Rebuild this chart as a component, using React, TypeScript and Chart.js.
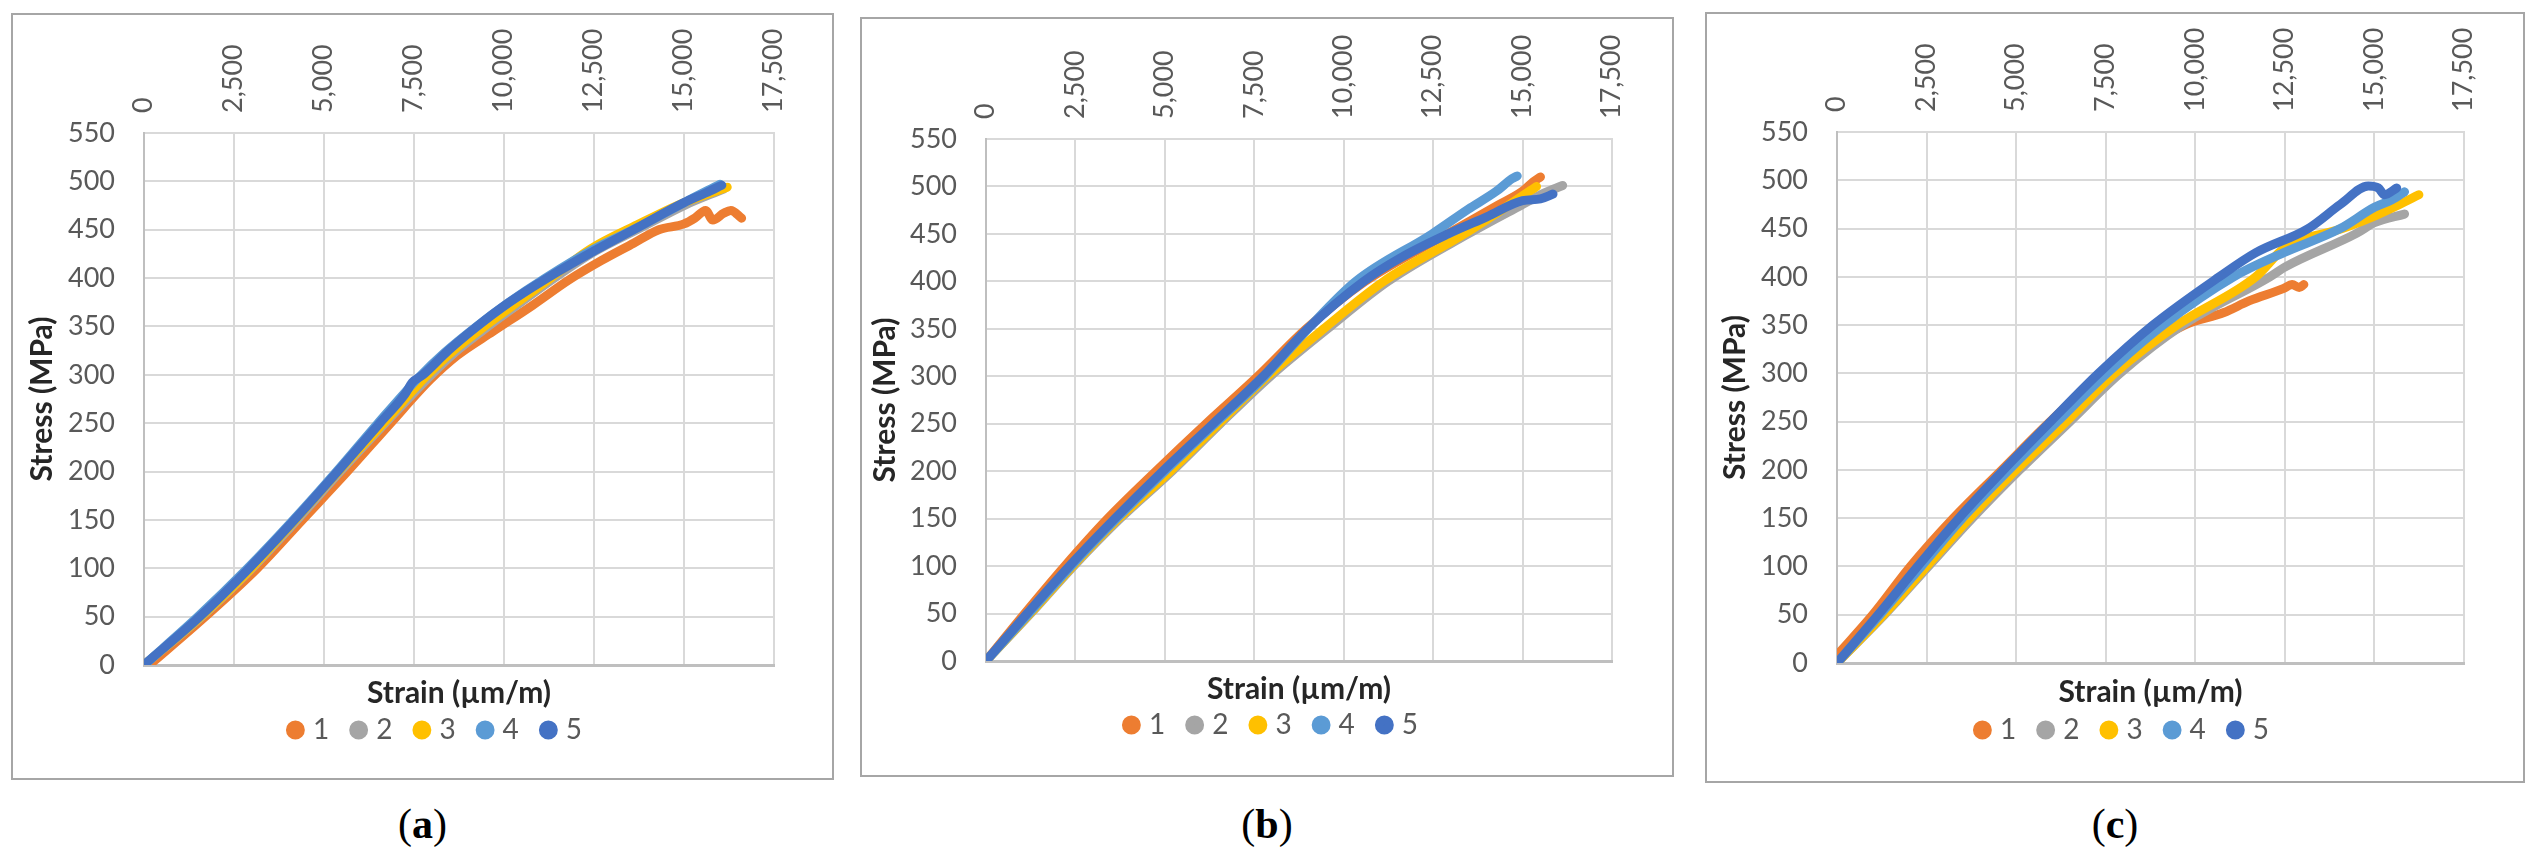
import { useEffect, useRef } from 'react';
import { Chart, registerables } from 'chart.js';

Chart.register(...registerables);

Chart.defaults.font.family = 'Lato, "Open Sans", sans-serif';
Chart.defaults.color = '#595959';

const specimens = ['1', '2', '3', '4', '5'];
const seriesColors = ['#ED7D31', '#A5A5A5', '#FFC000', '#5B9BD5', '#4472C4'];

const strainMax = 17500;
const strainStep = 2500;
const stressMax = 550;
const stressStep = 50;

type Pt = [number, number]; // [strain µm/m, stress MPa]

// (a)
const a1: Pt[] = [[150, 0], [1700, 50], [3150, 100], [4400, 150], [5650, 200], [6850, 250], [7950, 295], [8700, 320], [9700, 345], [10800, 372], [11800, 398], [12700, 418], [13600, 436], [14300, 450], [15000, 456], [15300, 462], [15600, 470], [15800, 460], [16100, 467], [16300, 470], [16600, 462]];
const a2: Pt[] = [[0, 0], [1600, 50], [3000, 100], [4250, 150], [5450, 200], [6700, 250], [7900, 297], [8600, 322], [9450, 347], [10400, 373], [11400, 400], [12500, 427], [13800, 452], [15000, 475], [16100, 492]];
const a3: Pt[] = [[0, 0], [1580, 50], [2980, 100], [4200, 150], [5400, 200], [6650, 250], [7800, 297], [8500, 322], [9350, 347], [10300, 373], [11300, 400], [12400, 430], [13700, 455], [15000, 478], [16200, 494]];
const a4: Pt[] = [[0, 0], [1500, 50], [2880, 100], [4150, 150], [5350, 200], [6500, 250], [7650, 298], [8350, 323], [9200, 349], [10100, 374], [11150, 400], [12500, 430], [13750, 453], [15000, 478], [16000, 497]];
const a5: Pt[] = [[0, 0], [1550, 50], [2920, 100], [4180, 150], [5380, 200], [6550, 250], [7250, 280], [7450, 292], [7750, 300], [8450, 325], [9250, 350], [10150, 375], [11200, 400], [12500, 428], [13700, 452], [15000, 478], [15600, 488], [16050, 496]];

// (b)
const b1: Pt[] = [[0, 0], [1080, 50], [2200, 100], [3400, 150], [4750, 200], [6150, 250], [7600, 300], [8950, 350], [10600, 400], [12900, 450], [14300, 480], [15000, 495], [15300, 505], [15500, 510]];
const b2: Pt[] = [[0, 0], [1250, 50], [2450, 100], [3750, 150], [5200, 200], [6550, 250], [7950, 300], [9550, 350], [11240, 400], [13480, 450], [14950, 480], [15600, 493], [16120, 501]];
const b3: Pt[] = [[0, 0], [1230, 50], [2420, 100], [3700, 150], [5150, 200], [6500, 250], [7870, 300], [9440, 350], [11120, 400], [13370, 450], [14600, 480], [15390, 500]];
const b4: Pt[] = [[0, 0], [1200, 50], [2380, 100], [3650, 150], [5000, 200], [6400, 250], [7800, 300], [9000, 350], [10340, 400], [12470, 450], [13480, 476], [14270, 495], [14700, 508], [14850, 511]];
const b5: Pt[] = [[0, 0], [1150, 50], [2330, 100], [3600, 150], [4940, 200], [6350, 250], [7750, 300], [8990, 350], [10560, 400], [11600, 425], [12920, 450], [14000, 468], [15000, 485], [15500, 487], [15850, 492]];

// (c)
const c1: Pt[] = [[0, 8], [1000, 50], [2050, 100], [3250, 150], [4600, 200], [5950, 250], [7450, 300], [9700, 350], [10800, 363], [11500, 375], [12470, 388], [12700, 392], [12900, 389], [13030, 392]];
const c2: Pt[] = [[0, 0], [1330, 50], [2550, 100], [3780, 150], [5100, 200], [6500, 250], [7900, 300], [9650, 350], [12080, 400], [12500, 410], [14500, 445], [15000, 456], [15840, 465]];
const c3: Pt[] = [[0, 0], [1300, 50], [2500, 100], [3700, 150], [5000, 200], [6400, 250], [7750, 300], [9490, 350], [11690, 400], [12500, 430], [14100, 450], [15000, 463], [15700, 475], [16240, 485]];
const c4: Pt[] = [[0, 0], [1200, 50], [2350, 100], [3500, 150], [4800, 200], [6150, 250], [7530, 300], [9100, 350], [11070, 400], [12470, 425], [14045, 450], [15000, 472], [15500, 480], [15840, 488]];
const c5: Pt[] = [[0, 0], [1150, 50], [2250, 100], [3400, 150], [4650, 200], [5960, 250], [7300, 300], [8820, 350], [10670, 400], [11690, 425], [13150, 450], [14050, 475], [14830, 494], [15110, 492], [15280, 485], [15620, 492]];

interface PanelLayout {
  caption: string;
  left: number;
  top: number;
  width: number;
  height: number;
  padLeft: number;
  padBottom: number;
  yWidth: number;
  rightWidth: number;
  xTopHeight: number;
  xBottomHeight: number;
  xTitlePad: number;
  yTitlePad: number;
}

const panels: { series: Pt[][]; layout: PanelLayout }[] = [
  {
    series: [a1, a2, a3, a4, a5],
    layout: { caption: 'a', left: 11, top: 13, width: 823, height: 767, padLeft: 29, padBottom: 24, yWidth: 102, rightWidth: 58, xTopHeight: 118, xBottomHeight: 25, xTitlePad: -18, yTitlePad: -15 },
  },
  {
    series: [b1, b2, b3, b4, b5],
    layout: { caption: 'b', left: 860, top: 17, width: 814, height: 760, padLeft: 12, padBottom: 26, yWidth: 112, rightWidth: 60, xTopHeight: 120, xBottomHeight: 24, xTitlePad: -19, yTitlePad: -4 },
  },
  {
    series: [c1, c2, c3, c4, c5],
    layout: { caption: 'c', left: 1705, top: 12, width: 820, height: 771, padLeft: 18, padBottom: 27, yWidth: 112, rightWidth: 59, xTopHeight: 118, xBottomHeight: 27, xTitlePad: -17, yTitlePad: -5 },
  },
];

function StressStrainPanel({ series, layout }: { series: Pt[][]; layout: PanelLayout }) {
  const canvasRef = useRef<HTMLCanvasElement>(null);
  const w = layout.width - 4;
  const h = layout.height - 4;

  useEffect(() => {
    if (!canvasRef.current) return;
    const chart = new Chart(canvasRef.current, {
      type: 'scatter',
      data: {
        datasets: series.map((pts, i) => ({
          label: specimens[i],
          data: pts.map(([x, y]) => ({ x, y })),
          showLine: true,
          borderColor: seriesColors[i],
          backgroundColor: seriesColors[i],
          borderWidth: 9,
          borderCapStyle: 'round' as const,
          borderJoinStyle: 'round' as const,
          cubicInterpolationMode: 'monotone' as const,
          pointRadius: 0,
          pointHoverRadius: 0,
          pointStyle: 'circle' as const,
          order: specimens.length - i,
        })),
      },
      options: {
        animation: false,
        responsive: false,
        events: [],
        layout: {
          padding: { left: layout.padLeft, right: 0, top: 0, bottom: layout.padBottom },
        },
        plugins: {
          legend: {
            position: 'bottom',
            labels: {
              usePointStyle: true,
              boxWidth: 7,
              boxHeight: 7,
              padding: 26,
              color: '#595959',
              font: { size: 28 },
              sort: (a, b) => (a.datasetIndex ?? 0) - (b.datasetIndex ?? 0),
            },
          },
          tooltip: { enabled: false },
        },
        scales: {
          x: {
            type: 'linear',
            position: 'top',
            min: 0,
            max: strainMax,
            ticks: {
              stepSize: strainStep,
              minRotation: 90,
              maxRotation: 90,
              autoSkip: false,
              padding: 20,
              labelOffset: 32,
              color: '#595959',
              font: { size: 27 },
            },
            grid: { color: '#d9d9d9', lineWidth: 2, drawTicks: false },
            border: { color: '#d9d9d9', width: 2 },
            afterFit: (s) => {
              s.height = layout.xTopHeight;
            },
          },
          x2: {
            type: 'linear',
            position: 'bottom',
            min: 0,
            max: strainMax,
            ticks: { display: false },
            grid: { display: false, drawTicks: false },
            border: { display: true, color: '#bfbfbf', width: 3 },
            title: {
              display: true,
              text: 'Strain (µm/m)',
              color: '#262626',
              font: { size: 30, weight: 'bold', lineHeight: 1 },
              padding: { top: 0, bottom: layout.xTitlePad },
            },
            afterFit: (s) => {
              s.height = layout.xBottomHeight;
            },
          },
          y: {
            type: 'linear',
            min: 0,
            max: stressMax,
            ticks: {
              stepSize: stressStep,
              padding: 29,
              color: '#595959',
              font: { size: 27 },
            },
            grid: { color: '#d9d9d9', lineWidth: 2, drawTicks: false },
            border: { color: '#bfbfbf', width: 2 },
            title: {
              display: true,
              text: 'Stress (MPa)',
              color: '#262626',
              font: { size: 30, weight: 'bold', lineHeight: 1 },
              padding: { top: layout.yTitlePad, bottom: 0 },
            },
            afterFit: (s) => {
              s.width = layout.yWidth;
            },
          },
          // empty right-hand strip, keeps the legend centred like the original
          y2: {
            type: 'linear',
            position: 'right',
            min: 0,
            max: stressMax,
            ticks: { display: false },
            grid: { display: false, drawTicks: false },
            border: { display: false },
            afterFit: (s) => {
              s.width = layout.rightWidth;
            },
          },
        },
      },
    });
    return () => chart.destroy();
  }, [series, layout]);

  return (
    <>
      <div
        style={{
          position: 'absolute',
          left: layout.left,
          top: layout.top,
          width: layout.width,
          height: layout.height,
          border: '2px solid #a6a6a6',
          boxSizing: 'border-box',
          background: '#fff',
        }}
      >
        <canvas ref={canvasRef} width={w} height={h} style={{ display: 'block', width: w, height: h }} />
      </div>
      <div
        style={{
          position: 'absolute',
          left: layout.left + layout.width / 2 - 100,
          top: 802,
          width: 200,
          textAlign: 'center',
          fontFamily: '"Liberation Serif", "DejaVu Serif", serif',
          fontSize: 42,
          lineHeight: '44px',
          color: '#000',
        }}
      >
        (<b>{layout.caption}</b>)
      </div>
    </>
  );
}

export default function App() {
  return (
    <div style={{ position: 'absolute', left: 0, top: 0, width: 2536, height: 857, background: '#fff', overflow: 'hidden' }}>
      {panels.map((p) => (
        <StressStrainPanel key={p.layout.caption} series={p.series} layout={p.layout} />
      ))}
    </div>
  );
}
